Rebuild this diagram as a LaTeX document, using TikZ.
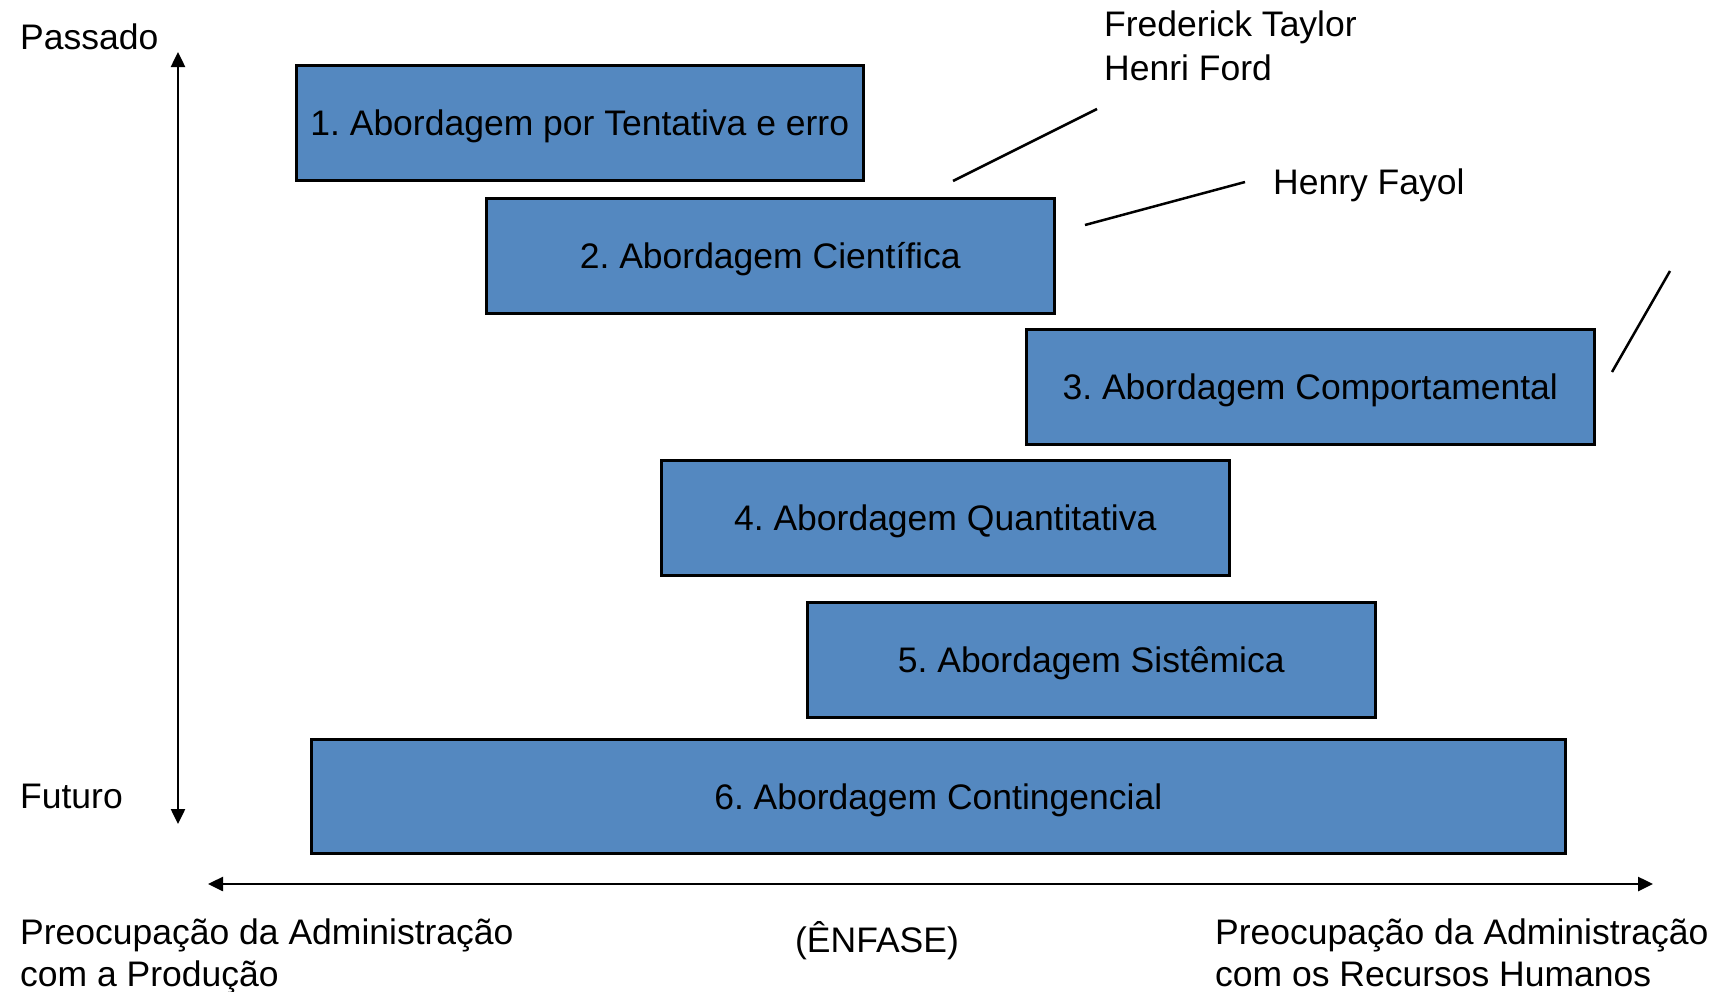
\documentclass[tikz,border=0pt]{standalone}
\usepackage{fontspec}
\setmainfont{Liberation Sans}
\usetikzlibrary{arrows.meta}
\definecolor{boxblue}{RGB}{84,136,192}
\begin{document}
\frenchspacing
\begin{tikzpicture}[x=1pt,y=-1pt,
  txt/.style={font=\fontsize{35.5pt}{42pt}\selectfont, inner sep=0pt},
  abox/.style={txt, draw=black, line width=2.5pt, fill=boxblue, anchor=north west, minimum height=115pt, text depth=0pt},
  lbl/.style={txt, anchor=base west},
  ax/.style={line width=2.5pt, {Triangle[length=15pt,width=14pt]}-{Triangle[length=15pt,width=14pt]}},
  callout/.style={line width=2.5pt}
]
\useasboundingbox (0,0) rectangle (1719,991);

% boxes
\node[abox, minimum width=567pt] (b1) at (295,64) {1. Abordagem por Tentativa e erro};
\node[abox, minimum width=568pt] (b2) at (485,197) {2. Abordagem Científica};
\node[abox, minimum width=568pt] (b3) at (1025,328) {3. Abordagem Comportamental};
\node[abox, minimum width=568pt] (b4) at (660,459) {4. Abordagem Quantitativa};
\node[abox, minimum width=568pt] (b5) at (806,601) {5. Abordagem Sistêmica};
\node[abox, minimum width=1254pt, minimum height=114pt] (b6) at (310,738) {6. Abordagem Contingencial};

% axis labels
\node[lbl] (passado) at (20,49) {Passado};
\node[lbl] (futuro) at (20,808) {Futuro};
\node[lbl] (taylor) at (1104,36) {Frederick Taylor};
\node[lbl] (ford) at (1104,80) {Henri Ford};
\node[lbl] (fayol) at (1273,194) {Henry Fayol};
\node[lbl] (prodA) at (20,944) {Preocupação da Administração};
\node[lbl] (prodB) at (20,986) {com a Produção};
\node[txt, anchor=base] (enfase) at (877,952) {(ÊNFASE)};
\node[lbl] (rhA) at (1215,944) {Preocupação da Administração};
\node[lbl] (rhB) at (1215,986) {com os Recursos Humanos};

% axes
\coordinate (vtop) at (178,52);
\coordinate (vbot) at (178,824);
\coordinate (hl) at (208,884);
\coordinate (hr) at (1653,884);
\draw[ax] (vtop) -- (vbot);
\draw[ax] (hl) -- (hr);

% callout lines
\coordinate (c1a) at (953,181);
\coordinate (c1b) at (1097,109);
\coordinate (c2a) at (1085,225);
\coordinate (c2b) at (1245,182);
\coordinate (c3a) at (1612,372);
\coordinate (c3b) at (1670,271);
\draw[callout] (c1a) -- (c1b);
\draw[callout] (c2a) -- (c2b);
\draw[callout] (c3a) -- (c3b);
\end{tikzpicture}
\end{document}
